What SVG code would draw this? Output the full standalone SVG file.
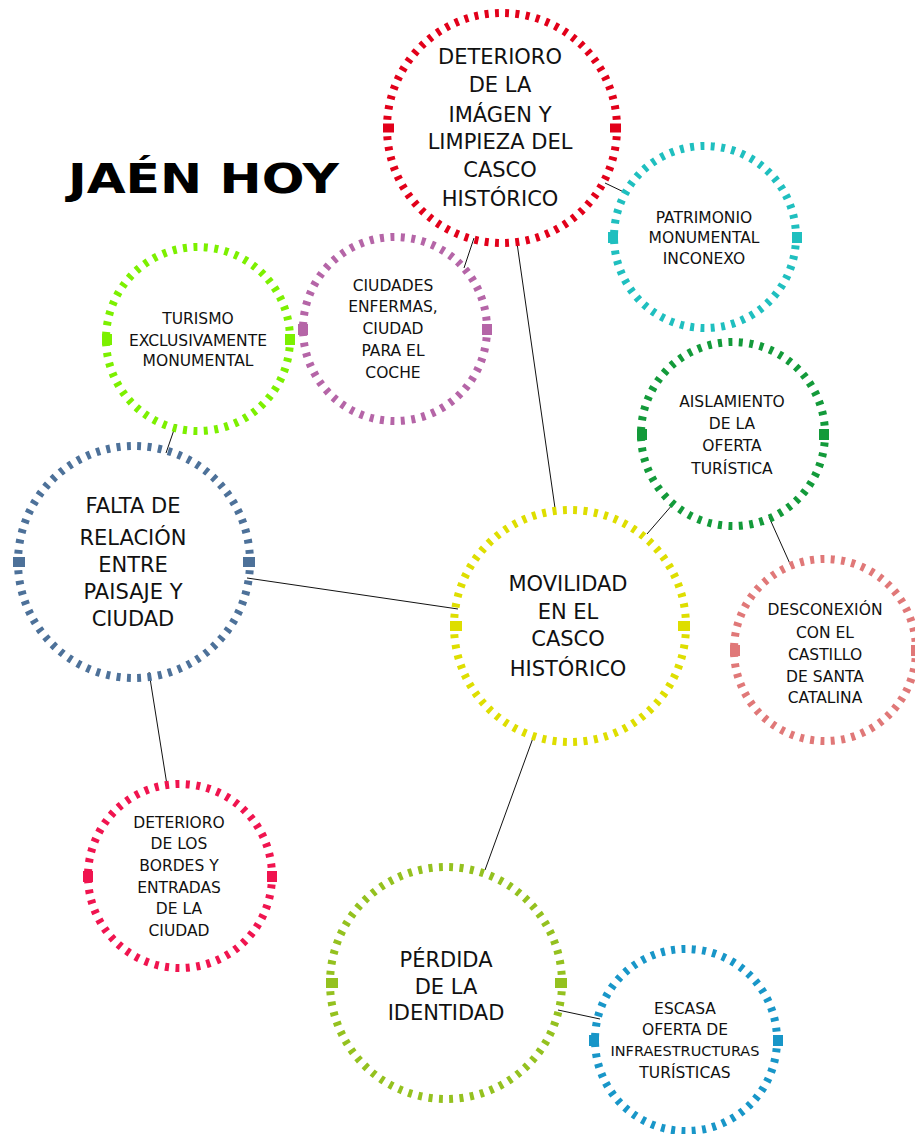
<svg xmlns="http://www.w3.org/2000/svg" width="915" height="1134" viewBox="0 0 915 1134">
<style>
.ring{fill:none;stroke-width:8;stroke-dasharray:0.38 0.62;stroke-dashoffset:0.19}
.t{font-family:"DejaVu Sans","Liberation Sans",sans-serif;fill:#111;text-anchor:middle}
.big{font-size:21px}
.sm{font-size:15.5px}
.conn line{stroke:#111;stroke-width:1}
</style>
<rect width="915" height="1134" fill="#fff"/>
<text x="68" y="193" font-family="DejaVu Sans, sans-serif" font-weight="bold" font-size="40" textLength="271" lengthAdjust="spacingAndGlyphs" fill="#000">JAÉN HOY</text>
<g class="conn">
<line x1="605" y1="183" x2="628" y2="194"/>
<line x1="474" y1="238" x2="464" y2="268"/>
<line x1="517" y1="243" x2="555" y2="508"/>
<line x1="176" y1="424" x2="166" y2="453"/>
<line x1="247" y1="578" x2="458" y2="609"/>
<line x1="149" y1="672" x2="167" y2="785"/>
<line x1="673" y1="504" x2="647" y2="534"/>
<line x1="769" y1="517" x2="791" y2="566"/>
<line x1="533" y1="738" x2="485" y2="870"/>
<line x1="558" y1="1010" x2="600" y2="1019"/>
</g>
<g id="deterioro-imagen">
<circle class="ring" cx="502" cy="128" r="115" pathLength="70" stroke="#e2001a"/>
<rect x="383" y="123.5" width="11" height="9" fill="#e2001a"/><rect x="610" y="123.5" width="11" height="9" fill="#e2001a"/>
<text class="t big"><tspan x="500" y="64">DETERIORO</tspan><tspan x="500" y="92">DE LA</tspan><tspan x="500" y="122">IMÁGEN Y</tspan><tspan x="500" y="149">LIMPIEZA DEL</tspan><tspan x="500" y="177">CASCO</tspan><tspan x="500" y="206">HISTÓRICO</tspan></text>
</g>
<g id="patrimonio">
<circle class="ring" cx="705" cy="237" r="91" pathLength="55" stroke="#1fbfbf"/>
<rect x="608" y="232" width="10" height="11" fill="#1fbfbf"/><rect x="792" y="232" width="10" height="11" fill="#1fbfbf"/>
<text class="t sm"><tspan x="704" y="223">PATRIMONIO</tspan><tspan x="704" y="243">MONUMENTAL</tspan><tspan x="704" y="264">INCONEXO</tspan></text>
</g>
<g id="turismo">
<circle class="ring" cx="198" cy="339" r="92" pathLength="55" stroke="#7cf000"/>
<rect x="102" y="334" width="10" height="11" fill="#7cf000"/><rect x="285" y="334" width="10" height="11" fill="#7cf000"/>
<text class="t sm"><tspan x="198" y="324">TURISMO</tspan><tspan x="198" y="346">EXCLUSIVAMENTE</tspan><tspan x="198" y="366">MONUMENTAL</tspan></text>
</g>
<g id="ciudades-enfermas">
<circle class="ring" cx="395" cy="329" r="92" pathLength="55" stroke="#b565a7"/>
<rect x="298" y="324" width="10" height="11" fill="#b565a7"/><rect x="482" y="324" width="10" height="11" fill="#b565a7"/>
<text class="t sm"><tspan x="393" y="291">CIUDADES</tspan><tspan x="393" y="312">ENFERMAS,</tspan><tspan x="393" y="334">CIUDAD</tspan><tspan x="393" y="356">PARA EL</tspan><tspan x="393" y="378">COCHE</tspan></text>
</g>
<g id="aislamiento">
<circle class="ring" cx="733" cy="434" r="92" pathLength="55" stroke="#139a3a"/>
<rect x="637" y="429" width="10" height="11" fill="#139a3a"/><rect x="819" y="429" width="10" height="11" fill="#139a3a"/>
<text class="t sm"><tspan x="732" y="407">AISLAMIENTO</tspan><tspan x="732" y="429">DE LA</tspan><tspan x="732" y="451">OFERTA</tspan><tspan x="732" y="474">TURÍSTICA</tspan></text>
</g>
<g id="falta-relacion">
<circle class="ring" cx="134" cy="562" r="116" pathLength="70" stroke="#4d7199"/>
<rect x="13" y="557" width="12" height="10" fill="#4d7199"/><rect x="243" y="557" width="12" height="10" fill="#4d7199"/>
<text class="t big"><tspan x="133" y="513">FALTA DE</tspan><tspan x="133" y="545">RELACIÓN</tspan><tspan x="133" y="572">ENTRE</tspan><tspan x="133" y="599">PAISAJE Y</tspan><tspan x="133" y="626">CIUDAD</tspan></text>
</g>
<g id="movilidad">
<circle class="ring" cx="570" cy="626" r="116" pathLength="70" stroke="#dede00"/>
<rect x="450" y="621" width="12" height="10" fill="#dede00"/><rect x="678" y="621" width="12" height="10" fill="#dede00"/>
<text class="t big"><tspan x="568" y="591">MOVILIDAD</tspan><tspan x="568" y="619">EN EL</tspan><tspan x="568" y="646">CASCO</tspan><tspan x="568" y="676">HISTÓRICO</tspan></text>
</g>
<g id="desconexion">
<circle class="ring" cx="825" cy="650" r="91" pathLength="55" stroke="#e07878"/>
<rect x="730" y="645" width="10" height="11" fill="#e07878"/><rect x="911" y="645" width="10" height="11" fill="#e07878"/>
<text class="t sm"><tspan x="825" y="615">DESCONEXIÓN</tspan><tspan x="825" y="638">CON EL</tspan><tspan x="825" y="660">CASTILLO</tspan><tspan x="825" y="682">DE SANTA</tspan><tspan x="825" y="703">CATALINA</tspan></text>
</g>
<g id="deterioro-bordes">
<circle class="ring" cx="180" cy="876" r="92" pathLength="55" stroke="#f0144f"/>
<rect x="83" y="871" width="10" height="11" fill="#f0144f"/><rect x="267" y="871" width="10" height="11" fill="#f0144f"/>
<text class="t sm"><tspan x="179" y="828">DETERIORO</tspan><tspan x="179" y="849">DE LOS</tspan><tspan x="179" y="871">BORDES Y</tspan><tspan x="179" y="893">ENTRADAS</tspan><tspan x="179" y="914">DE LA</tspan><tspan x="179" y="936">CIUDAD</tspan></text>
</g>
<g id="perdida">
<circle class="ring" cx="446" cy="983" r="116" pathLength="70" stroke="#94c11f"/>
<rect x="326" y="978" width="12" height="10" fill="#94c11f"/><rect x="555" y="978" width="12" height="10" fill="#94c11f"/>
<text class="t big"><tspan x="446" y="967">PÉRDIDA</tspan><tspan x="446" y="994">DE LA</tspan><tspan x="446" y="1020">IDENTIDAD</tspan></text>
</g>
<g id="escasa-oferta">
<circle class="ring" cx="686" cy="1040" r="91" pathLength="55" stroke="#1896c8"/>
<rect x="589" y="1035" width="10" height="11" fill="#1896c8"/><rect x="773" y="1035" width="10" height="11" fill="#1896c8"/>
<text class="t sm"><tspan x="685" y="1014">ESCASA</tspan><tspan x="685" y="1035">OFERTA DE</tspan><tspan x="685" y="1056" font-size="14.5">INFRAESTRUCTURAS</tspan><tspan x="685" y="1078">TURÍSTICAS</tspan></text>
</g>
</svg>
